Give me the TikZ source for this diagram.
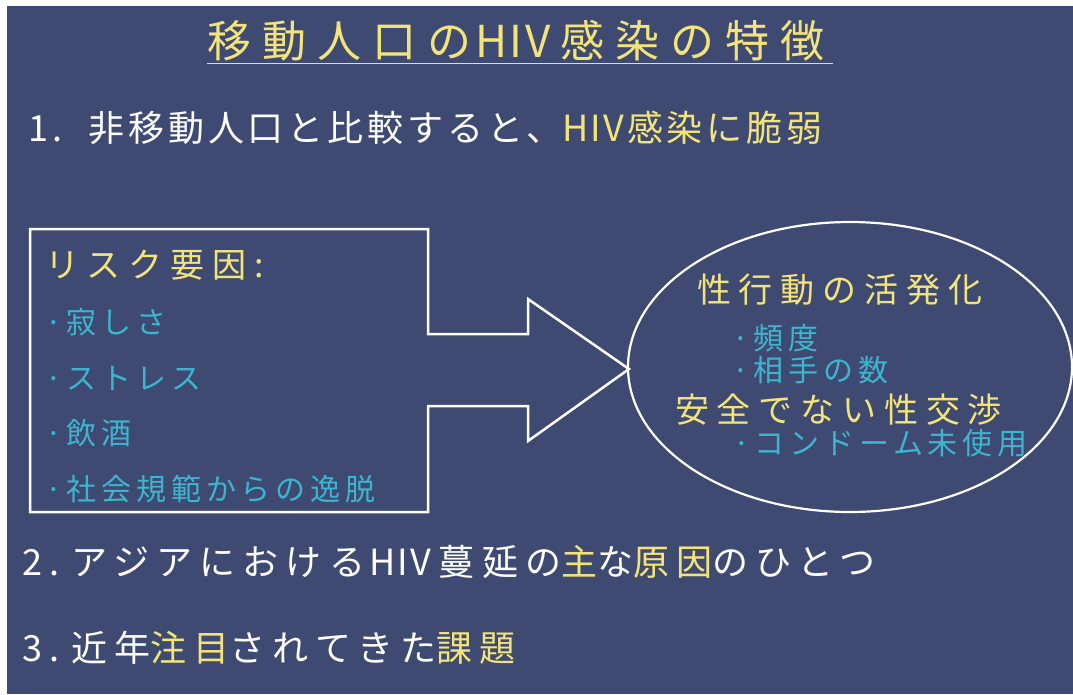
\documentclass[tikz,border=0pt]{standalone}
\usepackage{fontspec}
\usetikzlibrary{shapes.geometric}
\setmainfont{Noto Sans CJK JP}
\newfontfamily\jpN{Noto Sans CJK JP}[LetterSpace=6]
\newfontfamily\jpT{Noto Sans CJK JP}[LetterSpace=25]
\newfontfamily\jpM{Noto Sans CJK JP}[LetterSpace=11]
\newfontfamily\jpW{Noto Sans CJK JP}[LetterSpace=20]
\newfontfamily\jpY{Noto Sans CJK JP}[LetterSpace=23]
\newfontfamily\jpC{Noto Sans CJK JP}[LetterSpace=16]
\newcommand{\hiv}{{\jpN HIV}}
\definecolor{bg}{HTML}{3F4A72}
\definecolor{hl}{HTML}{F3E47A}
\definecolor{cy}{HTML}{3DB5CF}
\begin{document}
\begin{tikzpicture}[x=1pt,y=-1pt,
  txt/.style={inner sep=0pt, text=white, anchor=west},
  titlefont/.style={font=\jpT\fontsize{44}{50}\selectfont},
  mainfont/.style={font=\jpM\fontsize{36}{40}\selectfont},
  widefont/.style={font=\jpW\fontsize{36}{40}\selectfont},
  headfont/.style={font=\jpY\fontsize{34}{38}\selectfont, text=hl},
  itemfont/.style={font=\jpC\fontsize{30}{34}\selectfont, text=cy},
  outline/.style={draw=white, line width=2.5pt, line join=miter}]
\useasboundingbox (0,0) rectangle (1073,694);
\fill[white] (0,0) rectangle (1073,694);
\fill[bg] (7,6) rectangle (1073,694);
% title
\node[txt, titlefont, text=hl] (title) at (207,41) {移動人口の\hspace{4pt}\hiv\hspace{10pt}感染の特徴};
\coordinate (ulstart) at ([yshift=-6pt]title.base west);
\coordinate (ulend) at (833,65);
\draw[hl, line width=1.5pt] (ulstart) -- (ulstart -| ulend);
% line 1
\node[txt, mainfont] (l1) at (28,128) {1.\hspace{26pt}非移動人口と比較すると、\textcolor{hl}{\hiv\hspace{3pt}感染に脆弱}};
% box with arrow
\draw[outline] (30,229) -- (428,229) -- (428,334) -- (528,334) -- (528,299) -- (629,369)
  -- (528,441) -- (528,406) -- (428,406) -- (428,512) -- (30,512) -- cycle;
\node[txt, headfont] (risk) at (45,265) {リスク要因:};
\node[txt, itemfont] (r1) at (45,322) {·寂しさ};
\node[txt, itemfont] (r2) at (45,378) {·ストレス};
\node[txt, itemfont] (r3) at (45,433) {·飲酒};
\node[txt, itemfont] (r4) at (45,489) {·社会規範からの逸脱};
% ellipse
\node[draw=white, line width=2.2pt, ellipse, minimum width=444pt, minimum height=290pt, inner sep=0pt] (oval) at (850,367) {};
\node[txt, headfont] (s1) at (697,290) {性行動の活発化};
\node[txt, itemfont] (s2) at (732,338) {·頻度};
\node[txt, itemfont] (s3) at (732,370) {·相手の数};
\node[txt, headfont] (s4) at (675,410) {安全でない性交渉};
\node[txt, itemfont] (s5) at (733,443) {·コンドーム未使用};
% lines 2 and 3
\node[txt, widefont] (l2) at (22,562) {2.\hspace{12pt}アジアにおける\hspace{4pt}\hiv\hspace{8pt}蔓延の\textcolor{hl}{主}な\textcolor{hl}{原因}のひとつ};
\node[txt, widefont] (l3) at (22,648) {3.\hspace{12pt}近年\textcolor{hl}{注目}されてきた\textcolor{hl}{課題}};
\end{tikzpicture}
\end{document}
